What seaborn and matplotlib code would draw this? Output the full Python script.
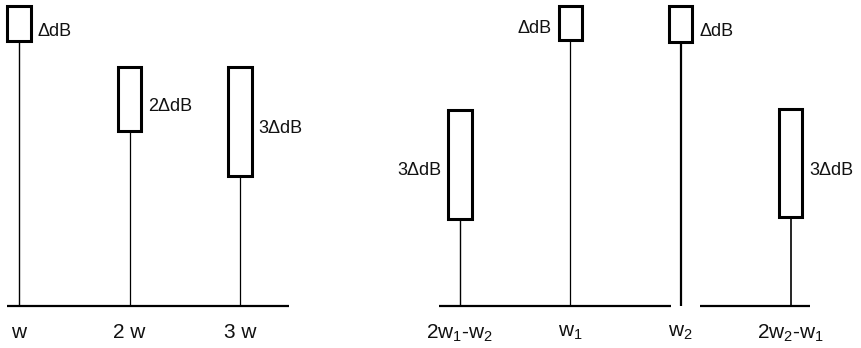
import matplotlib
matplotlib.use("Agg")
import matplotlib.pyplot as plt
import seaborn as sns

# left panel: harmonics of a single tone w
harm_pos = [1, 2, 3]
harm_labels = ["w", "2 w", "3 w"]
harm_level = [8.83, 5.83, 4.33]    # stem top = box bottom
harm_spread = [1.17, 2.14, 3.64]   # box height (uncertainty)
harm_text = ["ΔdB", "2ΔdB", "3ΔdB"]
harm_side = ["right", "right", "right"]

# right panel: two-tone products
im_pos = [0, 1, 2, 3]
im_labels = ["2w$_1$-w$_2$", "w$_1$", "w$_2$", "2w$_2$-w$_1$"]
im_level = [2.90, 8.87, 8.80, 2.97]
im_spread = [3.63, 1.13, 1.20, 3.60]
im_text = ["3ΔdB", "ΔdB", "ΔdB", "3ΔdB"]
im_side = ["left", "left", "right", "right"]

sns.set_theme(style="white")
plt.rcParams["font.family"] = ["Liberation Sans", "DejaVu Sans"]
plt.rcParams["mathtext.default"] = "regular"


def draw_panel(ax, pos, level, spread, texts, sides, labels, spans, stem_lw):
    ax.vlines(pos, 0, level, color="black", linewidths=stem_lw, zorder=2)
    ax.bar(pos, spread, bottom=level, width=0.21, color="white",
           edgecolor="black", linewidth=2.2, zorder=3, clip_on=False)
    for a, b in spans:
        ax.hlines(0, a, b, color="black", linewidth=1.6, clip_on=False)
    for x, lo, h, t, side in zip(pos, level, spread, texts, sides):
        if side == "right":
            ax.text(x + 0.17, lo + h / 2 - 0.25, t, ha="left", va="center",
                    fontsize=13, color="#111111")
        else:
            ax.text(x - 0.17, lo + h / 2 - 0.2, t, ha="right", va="center",
                    fontsize=13, color="#111111")
    ax.set_xticks(pos, labels)
    ax.tick_params(axis="x", length=0, pad=12, labelsize=15, labelcolor="#111111")
    ax.set_yticks([])
    ax.set_ylim(0, 10.2)
    sns.despine(ax=ax, left=True, bottom=True)


fig = plt.figure(figsize=(8.61, 3.48), dpi=100)
ax1 = fig.add_axes([0, 42 / 348, 300 / 861, 306 / 348])
ax2 = fig.add_axes([420 / 861, 42 / 348, 441 / 861, 306 / 348])
ax1.set_xlim(1 - 19 / 110.5, 1 + 281 / 110.5)
ax2.set_xlim(-40 / 110.3, 401 / 110.3)

draw_panel(ax1, harm_pos, harm_level, harm_spread, harm_text, harm_side,
           harm_labels, [(0.89, 3.44)], [1.0, 0.9, 0.9])
draw_panel(ax2, im_pos, im_level, im_spread, im_text, im_side,
           im_labels, [(-0.19, 1.91), (2.18, 3.17)], [1.0, 0.9, 1.6, 1.2])

fig.savefig("out.png", dpi=100, facecolor="white")
